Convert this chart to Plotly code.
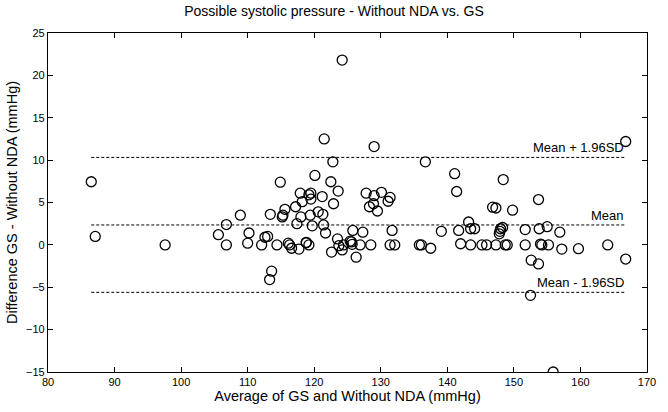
import plotly.graph_objects as go

# Bland-Altman data: average of the two methods (x) and their difference (y), mmHg
avg_mmhg = [
    86.5, 87.1, 97.6, 105.6, 106.8, 106.8, 108.9, 110.2, 110.0, 112.6,
    113.0, 112.1, 113.4, 113.6, 113.3, 114.4, 114.9, 115.2, 115.3, 115.6,
    116.3, 116.6, 117.2, 117.4, 117.7, 117.9, 118.0, 118.2, 118.8, 119.2,
    119.2, 119.5, 119.5, 119.4, 119.7, 120.1, 120.6, 121.2, 121.3, 121.4,
    121.5, 121.7, 122.5, 122.6, 122.8, 122.9, 123.5, 123.6, 123.7, 124.2,
    124.2, 125.4, 125.7, 125.8, 126.3, 126.9, 127.3, 127.8, 128.3, 128.9,
    128.5, 129.0, 129.0, 129.5, 130.1, 131.1, 131.4, 131.7, 131.4, 132.1,
    135.8, 136.1, 136.7, 137.5, 139.1, 141.1, 141.4, 141.7, 142.0, 143.2,
    143.5, 144.1, 143.5, 145.2, 145.9, 146.8, 147.3, 147.3, 147.8, 147.9,
    148.0, 148.3, 148.4, 148.7, 149.0, 149.8, 151.7, 151.7, 152.6, 152.5,
    153.7, 153.8, 153.7, 154.0, 154.2, 155.0, 155.2, 155.9, 156.9, 157.2,
    159.7, 164.1, 166.8, 166.8, 124.4, 125.6, 116.1, 118.8,
]
diff_mmhg = [
    7.45, 1.0, 0.0, 1.2, 2.4, 0.0, 3.5, 1.4, 0.2, 0.9,
    1.0, 0.0, 3.6, -3.1, -4.1, 0.0, 7.4, 3.3, 3.5, 4.2,
    0.0, -0.4, 4.5, 2.5, -0.5, 6.1, 3.3, 5.1, 0.25, 0.0,
    5.9, 6.1, 5.4, 3.5, 2.25, 8.2, 3.9, 5.7, 3.6, 2.35,
    12.5, 1.4, 7.45, -0.85, 9.8, 4.85, 0.7, 6.35, -0.1, -0.6,
    21.8, 0.44, 0.06, 1.7, -1.45, 0.0, 1.5, 6.1, 4.5, 4.85,
    0.0, 5.8, 11.6, 4.0, 6.2, 5.15, 5.6, 1.7, 0.0, 0.0,
    0.0, 0.0, 9.8, -0.4, 1.6, 8.4, 6.3, 1.7, 0.13, 2.7,
    1.9, 1.9, 0.0, 0.0, 0.0, 4.45, 4.35, 0.0, 1.3, 1.6,
    1.9, 2.05, 7.7, 0.0, 0.0, 4.1, 1.8, 0.0, -1.8, -5.95,
    5.35, 1.9, -2.25, 0.1, 0.0, 2.15, 0.0, -15.0, 1.5, -0.5,
    -0.45, 0.0, 12.2, -1.67, 0.0, 0.35, 0.2, 0.3,
]

# Bias and limits of agreement
mean_diff = 2.35
upper_loa = 10.32
lower_loa = -5.6
line_labels = ["Mean + 1.96SD", "Mean", "Mean - 1.96SD"]

x_start, x_end = min(avg_mmhg), max(avg_mmhg)

font_family = "Liberation Sans, Arial, sans-serif"

fig = go.Figure()

fig.add_trace(go.Scatter(
    x=avg_mmhg, y=diff_mmhg, mode="markers",
    marker=dict(symbol="circle-open", size=10, color="black",
                line=dict(width=1.3, color="black")),
    showlegend=False, hoverinfo="x+y",
))

for level, label in zip([upper_loa, mean_diff, lower_loa], line_labels):
    fig.add_trace(go.Scatter(
        x=[x_start, x_end], y=[level, level], mode="lines",
        line=dict(color="black", width=1, dash="3px,2px"),
        showlegend=False, hoverinfo="skip",
    ))
    fig.add_annotation(
        x=x_end, y=level, text=label, showarrow=False,
        xanchor="right", yanchor="bottom", yshift=0,
        font=dict(family=font_family, size=13, color="black"),
    )

axis_common = dict(
    showgrid=False, zeroline=False,
    showline=True, linecolor="black", linewidth=1.2, mirror="ticks",
    ticks="inside", ticklen=5, tickwidth=1, tickcolor="black",
    tickfont=dict(family=font_family, size=11, color="black"),
)

fig.update_xaxes(range=[80, 170], dtick=10, tick0=80,
                 title=dict(text="Average of GS and Without NDA (mmHg)",
                            font=dict(family=font_family, size=14.5, color="black"),
                            standoff=2),
                 **axis_common)
fig.update_yaxes(range=[-15, 25], dtick=5, tick0=-15,
                 title=dict(text="Difference GS - Without NDA (mmHg)",
                            font=dict(family=font_family, size=14.5, color="black"),
                            standoff=4),
                 **axis_common)

fig.update_layout(
    width=668, height=412,
    margin=dict(l=48, r=12, t=33, b=31),
    paper_bgcolor="white", plot_bgcolor="white",
    title=dict(text="Possible systolic pressure - Without NDA vs. GS",
               font=dict(family=font_family, size=14, color="black"),
               x=0.5, xanchor="center", y=0.985, yanchor="top"),
)

fig.write_html("out.html")
